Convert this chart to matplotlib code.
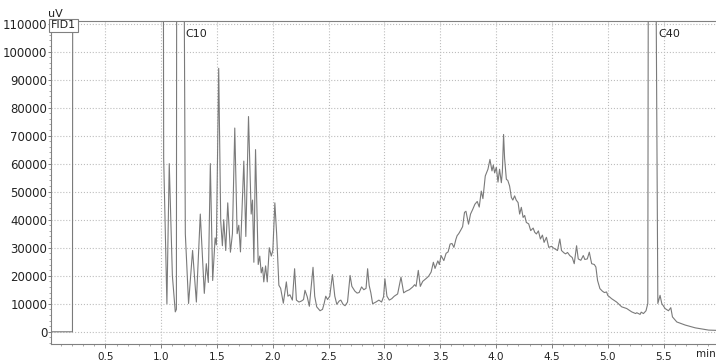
import matplotlib
matplotlib.use("Agg")
import matplotlib.pyplot as plt
from matplotlib.ticker import MultipleLocator

plt.rcParams['font.family'] = ['DejaVu Sans']

# retention time (min) and detector signal (uV)
# 250000 = off scale (solvent / C10 / C40 peaks run past the top)
time_min = [0.0, 0.205, 0.209, 1.015, 1.022, 1.051, 1.072, 1.100, 1.126, 1.136,
            1.141, 1.191, 1.216, 1.245, 1.281, 1.315, 1.350, 1.386, 1.404, 1.422,
            1.440, 1.461, 1.483, 1.494, 1.515, 1.533, 1.548, 1.560, 1.578, 1.596,
            1.620, 1.638, 1.659, 1.680, 1.695, 1.710, 1.740, 1.758, 1.782, 1.806,
            1.818, 1.830, 1.845, 1.869, 1.883, 1.896, 1.908, 1.919, 1.935, 1.950,
            1.968, 1.986, 2.000, 2.018, 2.034, 2.054, 2.070, 2.094, 2.121, 2.135,
            2.153, 2.175, 2.195, 2.211, 2.234, 2.258, 2.275, 2.288, 2.308, 2.327,
            2.345, 2.360, 2.375, 2.393, 2.423, 2.445, 2.459, 2.474, 2.490, 2.510,
            2.534, 2.555, 2.573, 2.595, 2.609, 2.629, 2.647, 2.669, 2.692, 2.708,
            2.735, 2.755, 2.773, 2.795, 2.815, 2.835, 2.849, 2.863, 2.878, 2.894,
            2.923, 2.950, 2.974, 2.992, 3.004, 3.022, 3.043, 3.065, 3.088, 3.118,
            3.148, 3.172, 3.195, 3.223, 3.253, 3.270, 3.283, 3.303, 3.321, 3.343,
            3.373, 3.395, 3.418, 3.438, 3.453, 3.478, 3.492, 3.507, 3.532, 3.552,
            3.570, 3.588, 3.605, 3.622, 3.640, 3.651, 3.665, 3.681, 3.700, 3.717,
            3.730, 3.753, 3.771, 3.792, 3.810, 3.831, 3.849, 3.867, 3.882, 3.903,
            3.927, 3.945, 3.963, 3.975, 3.987, 4.002, 4.017, 4.031, 4.047, 4.056,
            4.067, 4.076, 4.092, 4.105, 4.121, 4.137, 4.150, 4.166, 4.180, 4.197,
            4.211, 4.226, 4.242, 4.256, 4.271, 4.292, 4.310, 4.332, 4.346, 4.361,
            4.379, 4.397, 4.415, 4.430, 4.451, 4.472, 4.496, 4.510, 4.526, 4.550,
            4.571, 4.586, 4.607, 4.622, 4.640, 4.660, 4.682, 4.700, 4.721, 4.736,
            4.759, 4.781, 4.795, 4.817, 4.835, 4.856, 4.880, 4.894, 4.909, 4.930,
            4.952, 4.970, 4.990, 5.000, 5.035, 5.080, 5.125, 5.170, 5.215, 5.250,
            5.260, 5.290, 5.300, 5.320, 5.343, 5.359, 5.368, 5.415, 5.449, 5.469,
            5.484, 5.514, 5.544, 5.565, 5.580, 5.619, 5.694, 5.784, 5.904, 5.979]
signal_uv = [0, 0, 250000, 250000, 62000, 10000, 60000, 20000, 7100, 8000,
             250000, 250000, 35000, 10100, 29000, 10600, 42000, 13700, 24300, 17600,
             60000, 18300, 33500, 31000, 94000, 39600, 30700, 40000, 29000, 46000,
             28400, 35000, 72700, 35000, 38000, 28500, 60900, 34000, 76800, 42000,
             47000, 24800, 65000, 24000, 27000, 21000, 23000, 17800, 23500, 17800,
             30000, 27000, 29000, 46000, 35000, 16600, 15500, 10200, 17800, 12700,
             13200, 11300, 22500, 11300, 10600, 11000, 11500, 14800, 12500, 9100,
             16500, 23000, 12700, 8900, 7500, 8000, 10000, 12700, 11500, 12700,
             20400, 12700, 9800, 11000, 11300, 9800, 9300, 10600, 20100, 16200,
             14500, 13800, 14000, 16000, 15000, 15500, 22500, 16500, 13900, 10000,
             10600, 11300, 10600, 12500, 18900, 12700, 11300, 11800, 12700, 13500,
             19500, 13900, 14500, 15000, 16000, 16800, 16200, 21900, 16200, 18000,
             19000, 19800, 21300, 24800, 22600, 25300, 24000, 27200, 25400, 28000,
             28500, 31300, 31500, 30100, 33000, 34300, 35000, 36100, 37500, 42600,
             43000, 38400, 42000, 43800, 45500, 46500, 44500, 50200, 47500, 55600,
             58000, 61500, 57400, 59500, 56700, 58700, 53400, 58000, 53200, 57000,
             70400, 62000, 54400, 54000, 52000, 47900, 47000, 48500, 47000, 46100,
             42000, 44400, 40800, 41500, 39000, 38500, 36100, 37000, 35500, 34900,
             36000, 33100, 34500, 31900, 33700, 30100, 30500, 30000, 29600, 29000,
             33100, 29000, 28200, 27800, 28300, 27200, 26500, 24300, 30700, 26000,
             25500, 27200, 25800, 26000, 28400, 24300, 24000, 23100, 18300, 15400,
             14500, 14000, 14200, 13000, 11800, 10600, 8900, 8300, 7100, 6500,
             6800, 6200, 7000, 6500, 7500, 10100, 250000, 250000, 10100, 13000,
             10100, 8300, 7500, 8600, 5300, 3500, 2400, 1400, 600, 500]

x_ticks = [0.5, 1.0, 1.5, 2.0, 2.5, 3.0, 3.5, 4.0, 4.5, 5.0, 5.5]
y_ticks = [0, 10000, 20000, 30000, 40000, 50000, 60000, 70000, 80000, 90000, 100000, 110000]
peak_labels = [('C10', 1.218), ('C40', 5.458)]

W, H = 716, 361
fig = plt.figure(figsize=(W / 100, H / 100), dpi=100)
ax = fig.add_axes([50.7 / W, (H - 344.3) / H, (W - 50.7) / W, (344.3 - 20.7) / H])

ax.plot(time_min, signal_uv, color='#7a7a7a', linewidth=0.8)

ax.set_xlim(0.01, 5.97)
ax.set_ylim(-4470, 111000)
ax.set_xticks(x_ticks)
ax.set_xticklabels([f'{v:.1f}' for v in x_ticks])
ax.set_yticks(y_ticks)
ax.set_yticklabels([str(v) for v in y_ticks])
ax.xaxis.set_minor_locator(MultipleLocator(0.1))
ax.yaxis.set_minor_locator(MultipleLocator(2000))

ax.grid(True, which='major', color='#bdbdbd', linestyle=':', linewidth=0.8)
ax.tick_params(which='major', width=0.7, color='#808080', labelcolor='#222222')
ax.tick_params(axis='y', which='major', length=2, pad=0.5, labelsize=8.5)
ax.tick_params(axis='x', which='major', length=3, pad=2.5, labelsize=7.5)
ax.tick_params(which='minor', length=1.5, width=0.6, color='#999999')

for side in ['left', 'bottom', 'top']:
    ax.spines[side].set_color('#808080')
    ax.spines[side].set_linewidth(0.8)
ax.spines['right'].set_visible(False)

for name, t in peak_labels:
    ax.text(t, 106300, name, fontsize=8, color='#222222', ha='left', va='center')

fig.text(55 / W, 1 - 14 / H, 'uV', fontsize=8, color='#222222', ha='center', va='center')
fig.text(706 / W, 1 - 354 / H, 'min', fontsize=7.5, color='#222222', ha='center', va='center')
fig.text(63.5 / W, 1 - 25.5 / H, 'FID1', fontsize=8, color='#222222', ha='center', va='center',
         bbox=dict(boxstyle='square,pad=0.15', fc='white', ec='#808080', lw=0.8))

fig.savefig('out.png', dpi=100)
